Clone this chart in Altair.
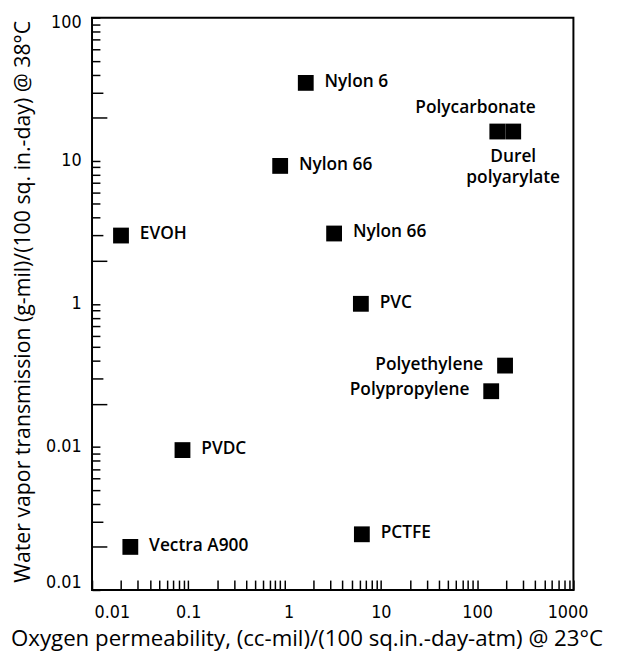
import altair as alt
import pandas as pd

# ---- data ----
materials = ["Nylon 6", "Polycarbonate", "Durel\npolyarylate", "Nylon 66", "EVOH",
             "Nylon 66", "PVC", "Polyethylene", "Polypropylene", "PVDC",
             "Vectra A900", "PCTFE"]
oxygen_perm = [1.66, 162, 237, 0.90, 0.020, 3.27, 6.2, 195, 140, 0.087, 0.025, 6.35]
water_trans = [35, 16, 16, 9.2, 3.0, 3.1, 1.0, 0.37, 0.245, 0.095, 0.020, 0.0245]
label_side = ["right", "above", "below", "right", "right", "right", "right",
              "left", "left", "right", "right", "right"]

x_tick_values = [0.01, 0.1, 1, 10, 100, 1000]
x_tick_labels = ["0.01", "0.1", "1", "10", "100", "1000"]
y_tick_values = [0.01, 0.1, 1, 10, 100]
y_tick_labels = ["0.01", "0.01", "1", "10", "100"]
decades = [0.01, 0.1, 1, 10]
multipliers = [1, 2, 3, 4, 5, 6, 7, 8, 9]

x_title = "Oxygen permeability, (cc-mil)/(100 sq.in.-day-atm) @ 23°C"
y_title = "Water vapor transmission (g-mil)/(100 sq. in.-day) @ 38°C"

df = pd.DataFrame({"material": materials, "oxygen": oxygen_perm,
                   "water": water_trans, "side": label_side})

minor_x = [round(m * d, 6) for d in decades + [100] for m in multipliers] + [1000]
minor_y = [round(m * d, 6) for d in decades for m in multipliers] + [100]

W, H = 487, 579
TICK_FONT = "'DejaVu Sans Condensed', 'DejaVu Sans'"
TEXT_FONT = "Open Sans"


def label_expr(values, labels):
    vals = ",".join(repr(v) for v in values)
    labs = ",".join("'" + s + "'" for s in labels)
    return "[" + labs + "][indexof([" + vals + "], datum.value)]"


xscale = alt.Scale(type="log", domain=[0.01, 1000], nice=False)
yscale = alt.Scale(type="log", domain=[0.01, 100], nice=False)

base = alt.Chart(df)

squares = base.mark_square(size=256, color="black", opacity=1).encode(
    x=alt.X("oxygen:Q", scale=xscale, axis=alt.Axis(
        values=x_tick_values, labelExpr=label_expr(x_tick_values, x_tick_labels),
        ticks=False, tickSize=0, domain=False, grid=False,
        labelFont=TICK_FONT, labelFontSize=18, labelColor="black",
        labelPadding=14, labelFlush=False, labelOverlap=False,
        labelOffset={"expr": "datum.value == 0.01 ? 20 : (datum.value == 1000 ? -6 : (datum.value == 1 ? 4 : 0))"},
        title=x_title, titleFont=TEXT_FONT, titleFontSize=22.5, titleFontWeight=500,
        titleColor="black", titleX=217, titleY=49, titleBaseline="middle",
        titleAlign="center")),
    y=alt.Y("water:Q", scale=yscale, axis=alt.Axis(
        values=y_tick_values, labelExpr=label_expr(y_tick_values, y_tick_labels),
        ticks=False, tickSize=0, domain=False, grid=False,
        labelFont=TICK_FONT, labelFontSize=18, labelColor="black",
        labelPadding=11, labelFlush=False, labelOverlap=False,
        labelOffset={"expr": "datum.value == 0.01 ? -8 : (datum.value == 100 ? 5 : 0)"},
        title=y_title, titleFont=TEXT_FONT, titleFontSize=21.5, titleFontWeight=400,
        titleColor="black", titleX=-69, titleY=287, titleAngle=-90,
        titleBaseline="middle", titleAlign="center")),
)

tick_expr = ("round(datum.value / pow(10, floor(log(datum.value) / LN10 + 1e-6))) == 2 ? 15 : "
             "(round(datum.value / pow(10, floor(log(datum.value) / LN10 + 1e-6))) == 3 ? 11 : 8)")

ticks = base.mark_point(opacity=0).encode(
    x=alt.X("oxygen:Q", scale=xscale, axis=alt.Axis(
        orient="top", offset=-H, values=minor_x, labels=False, domain=False,
        grid=False, tickSize=10, tickWidth=1.5, tickColor="black", title=None)),
    y=alt.Y("water:Q", scale=yscale, axis=alt.Axis(
        orient="right", offset=-W, values=minor_y, labels=False, domain=False,
        grid=False, tickSize={"expr": tick_expr}, tickWidth=1.5,
        tickColor="black", title=None)),
)

enc = dict(x=alt.X("oxygen:Q", scale=xscale, axis=None),
           y=alt.Y("water:Q", scale=yscale, axis=None),
           text="material:N")

txt_kw = dict(font=TEXT_FONT, fontSize=17.5, fontWeight=600, color="black")

right_lbl = base.transform_filter(alt.datum.side == "right").mark_text(
    align="left", baseline="middle", dx=19, dy=-1, **txt_kw).encode(**enc)
left_lbl = base.transform_filter(alt.datum.side == "left").mark_text(
    align="right", baseline="middle", dx=-22, dy=-1, **txt_kw).encode(**enc)
above_lbl = base.transform_filter(alt.datum.side == "above").mark_text(
    align="center", baseline="middle", dx=-22, dy=-24, **txt_kw).encode(**enc)
below_lbl = base.transform_filter(alt.datum.side == "below").mark_text(
    align="center", baseline="middle", dx=0, dy=26, lineBreak="\n",
    lineHeight=21, **txt_kw).encode(**enc)

chart = alt.layer(squares, ticks, right_lbl, left_lbl, above_lbl, below_lbl).resolve_axis(
    x="independent", y="independent"
).properties(
    width=W, height=H,
    autosize=alt.AutoSizeParams(type="none"),
    padding={"left": 85, "top": 6, "right": 36, "bottom": 60},
    background="white",
).configure_view(stroke="black", strokeWidth=2)

chart.save("out.html", embed_options={"renderer": "svg", "actions": False})
